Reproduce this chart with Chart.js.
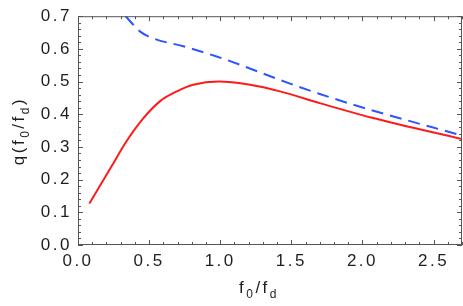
<!DOCTYPE html>
<html>
<head>
<meta charset="utf-8">
<script src="https://cdn.jsdelivr.net/npm/chart.js@4.4.1/dist/chart.umd.min.js"></script>
<style>
  html, body { margin: 0; padding: 0; background: #fff; }
  #wrap { width: 463px; height: 306px; position: relative; }
</style>
</head>
<body>
<div id="wrap"><canvas id="chart"></canvas></div>
<script>
// ── Data ───────────────────────────────────────────────────────────────────
const redX  = [0.08, 0.15, 0.235, 0.33, 0.46, 0.58, 0.70, 0.81, 0.99, 1.21, 1.42, 1.7, 2.06, 2.7];
const redY  = [0.127, 0.178, 0.24, 0.31, 0.388, 0.441, 0.471, 0.490, 0.500, 0.49, 0.47, 0.434, 0.39, 0.324];
const blueX = [0.335, 0.44, 0.53, 0.74, 0.98, 1.16, 1.42, 1.7, 2.06, 2.7];
const blueY = [0.70, 0.652, 0.632, 0.608, 0.576, 0.548, 0.505, 0.462, 0.413, 0.335];

const xTicks = [0.0, 0.5, 1.0, 1.5, 2.0, 2.5];
const yTicks = [0.0, 0.1, 0.2, 0.3, 0.4, 0.5, 0.6, 0.7];
const xTitle = [{ t: 'f' }, { t: '0', sub: true }, { t: '/f' }, { t: 'd', sub: true }];
const yTitle = [{ t: 'q(f' }, { t: '0', sub: true }, { t: '/f' }, { t: 'd', sub: true }, { t: ')' }];

const pts = (xs, ys) => xs.map((x, i) => ({ x, y: ys[i] }));

const FONT = '"Liberation Sans", Arial, sans-serif';
const TEXT = '#1e1e1e';
const FRAME = '#555';

// ── Helpers ───────────────────────────────────────────────────────────────
function drawRich(ctx, parts, cx, cy, angle) {
  ctx.save();
  ctx.translate(cx, cy);
  ctx.rotate(angle);
  ctx.fillStyle = TEXT;
  ctx.textBaseline = 'alphabetic';
  ctx.textAlign = 'left';
  const fontOf = p => (p.sub ? '12px ' : '17px ') + FONT;
  let total = 0;
  parts.forEach(p => { ctx.font = fontOf(p); p.w = ctx.measureText(p.t).width; total += p.w; });
  let x = -total / 2;
  parts.forEach(p => {
    ctx.font = fontOf(p);
    ctx.fillText(p.t, x, p.sub ? 5 : 0);
    x += p.w;
  });
  ctx.restore();
}

// frame with inward ticks on all four sides, plus axis titles
const framePlugin = {
  id: 'frame',
  beforeDraw(chart) {
    chart.ctx.letterSpacing = '2.5px';
  },
  afterDraw(chart) {
    const { ctx, chartArea: a, scales: { x, y } } = chart;
    ctx.save();
    ctx.strokeStyle = FRAME;
    ctx.lineWidth = 1;
    ctx.strokeRect(a.left + 0.5, a.top + 0.5, a.right - a.left - 1, a.bottom - a.top - 1);
    ctx.beginPath();
    for (let i = 0; i <= 27; i++) {
      const px = Math.round(x.getPixelForValue(i / 10)) + 0.5;
      const len = i % 5 === 0 ? 5 : 3;
      ctx.moveTo(px, a.bottom); ctx.lineTo(px, a.bottom - len);
      ctx.moveTo(px, a.top);    ctx.lineTo(px, a.top + len);
    }
    for (let i = 0; i <= 35; i++) {
      const py = Math.round(y.getPixelForValue(i / 50)) + 0.5;
      const len = i % 5 === 0 ? 5 : 3;
      ctx.moveTo(a.left, py);  ctx.lineTo(a.left + len, py);
      ctx.moveTo(a.right, py); ctx.lineTo(a.right - len, py);
    }
    ctx.stroke();
    ctx.restore();

    drawRich(ctx, xTitle, 259, 293, 0);
    drawRich(ctx, yTitle, 24, 131, -Math.PI / 2);
  },
};

// ── Chart ─────────────────────────────────────────────────────────────────
new Chart(document.getElementById('chart'), {
  type: 'line',
  data: {
    datasets: [
      {
        label: 'red',
        data: pts(redX, redY),
        borderColor: '#ff1a1a',
        borderWidth: 2,
        pointRadius: 0,
        cubicInterpolationMode: 'monotone',
        fill: false,
      },
      {
        label: 'blue',
        data: pts(blueX, blueY),
        borderColor: '#2f55ff',
        borderWidth: 2,
        borderDash: [12, 7],
        pointRadius: 0,
        cubicInterpolationMode: 'monotone',
        fill: false,
      },
    ],
  },
  options: {
    responsive: true,
    maintainAspectRatio: false,
    animation: false,
    events: [],
    layout: { padding: { top: 7, right: 1, left: 0, bottom: 0 } },
    plugins: { legend: { display: false }, tooltip: { enabled: false } },
    scales: {
      x: {
        type: 'linear',
        min: 0,
        max: 2.7,
        afterBuildTicks: s => { s.ticks = xTicks.map(v => ({ value: v })); },
        afterFit: s => { s.height = 61; },
        ticks: {
          includeBounds: false,
          autoSkip: false,
          maxRotation: 0,
          padding: 6,
          color: TEXT,
          font: { family: FONT, size: 17 },
          callback: v => Number(v).toFixed(1),
        },
        grid: { display: false, drawTicks: false },
        border: { display: false },
      },
      y: {
        type: 'linear',
        min: 0,
        max: 0.7,
        afterBuildTicks: s => { s.ticks = yTicks.map(v => ({ value: v })); },
        afterFit: s => { s.width = 78; },
        ticks: {
          includeBounds: false,
          autoSkip: false,
          padding: 6,
          color: TEXT,
          font: { family: FONT, size: 17 },
          callback: v => Number(v).toFixed(1),
        },
        grid: { display: false, drawTicks: false },
        border: { display: false },
      },
    },
  },
  plugins: [framePlugin],
});
</script>
</body>
</html>
